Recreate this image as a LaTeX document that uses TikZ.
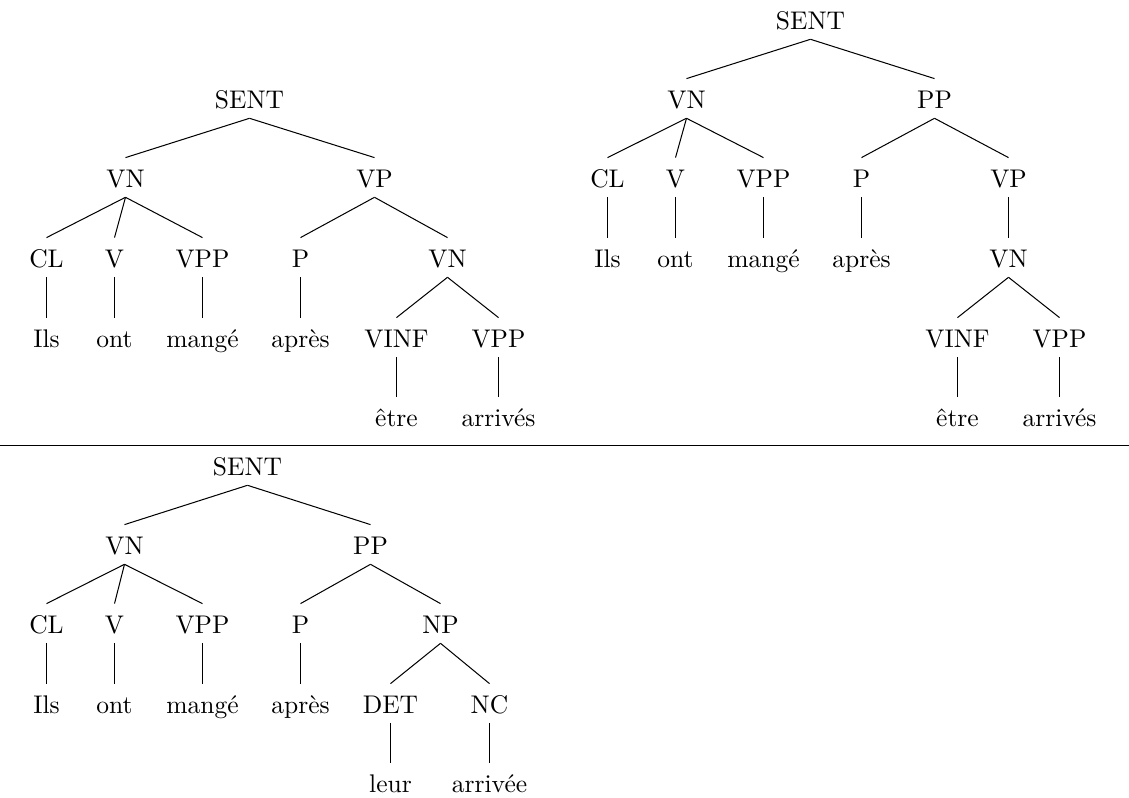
\documentclass[tikz,border=0pt]{standalone}
\usepackage{fontspec}
\begin{document}
\begin{tikzpicture}[x=0.392pt,y=-0.392pt,
  tn/.style={anchor=base, inner sep=3.33pt, text height=8pt, text depth=0.5pt},
  edge/.style={line width=0.4pt}]
\useasboundingbox (0,0) rectangle (1129,797);
\begin{scope}[shift={(0.5,0)}]
% ---------- Tree 1 ----------
\node[tn] (a0)  at (249,108) {SENT};
\node[tn] (a1)  at (125,187) {VN};
\node[tn] (a2)  at (374,187) {VP};
\node[tn] (a3)  at (46,267)  {CL};
\node[tn] (a4)  at (114,267) {V};
\node[tn] (a5)  at (202,267) {VPP};
\node[tn] (a6)  at (300,267) {P};
\node[tn] (a7)  at (447,267) {VN};
\node[tn] (a8)  at (46,347)  {Ils};
\node[tn] (a9)  at (114,347) {ont};
\node[tn] (a10) at (202,347) {mangé};
\node[tn] (a11) at (300,347) {après};
\node[tn] (a12) at (396,347) {VINF};
\node[tn] (a13) at (498,347) {VPP};
\node[tn] (a14) at (396,426) {être};
\node[tn] (a15) at (498,426) {arrivés};
\foreach \p/\c in {a0/a1,a0/a2,a1/a3,a1/a4,a1/a5,a2/a6,a2/a7,a3/a8,a4/a9,a5/a10,a6/a11,a7/a12,a7/a13,a12/a14,a13/a15}
  \draw[edge] (\p.south) -- (\c.north);
% ---------- Tree 2 ----------
\node[tn] (b0)  at (810,29)   {SENT};
\node[tn] (b1)  at (686,108)  {VN};
\node[tn] (b2)  at (934,108)  {PP};
\node[tn] (b3)  at (607,187)  {CL};
\node[tn] (b4)  at (675,187)  {V};
\node[tn] (b5)  at (763,187)  {VPP};
\node[tn] (b6)  at (861,187)  {P};
\node[tn] (b7)  at (1008,187) {VP};
\node[tn] (b8)  at (607,267)  {Ils};
\node[tn] (b9)  at (675,267)  {ont};
\node[tn] (b10) at (763,267)  {mangé};
\node[tn] (b11) at (861,267)  {après};
\node[tn] (b12) at (1008,267) {VN};
\node[tn] (b13) at (957,347)  {VINF};
\node[tn] (b14) at (1059,347) {VPP};
\node[tn] (b15) at (957,426)  {être};
\node[tn] (b16) at (1059,426) {arrivés};
\foreach \p/\c in {b0/b1,b0/b2,b1/b3,b1/b4,b1/b5,b2/b6,b2/b7,b3/b8,b4/b9,b5/b10,b6/b11,b7/b12,b12/b13,b12/b14,b13/b15,b14/b16}
  \draw[edge] (\p.south) -- (\c.north);
% ---------- Tree 3 ----------
\node[tn] (c0)  at (247,475) {SENT};
\node[tn] (c1)  at (124,554) {VN};
\node[tn] (c2)  at (370,554) {PP};
\node[tn] (c3)  at (46,633)  {CL};
\node[tn] (c4)  at (114,633) {V};
\node[tn] (c5)  at (202,633) {VPP};
\node[tn] (c6)  at (300,633) {P};
\node[tn] (c7)  at (440,633) {NP};
\node[tn] (c8)  at (46,713)  {Ils};
\node[tn] (c9)  at (114,713) {ont};
\node[tn] (c10) at (202,713) {mangé};
\node[tn] (c11) at (300,713) {après};
\node[tn] (c12) at (390,713) {DET};
\node[tn] (c13) at (489,713) {NC};
\node[tn] (c14) at (390,792) {leur};
\node[tn] (c15) at (489,792) {arrivée};
\foreach \p/\c in {c0/c1,c0/c2,c1/c3,c1/c4,c1/c5,c2/c6,c2/c7,c3/c8,c4/c9,c5/c10,c6/c11,c7/c12,c7/c13,c12/c14,c13/c15}
  \draw[edge] (\p.south) -- (\c.north);
\end{scope}
% ---------- separator ----------
\coordinate (hl) at (0,445.5);
\coordinate (hr) at (1129,445.5);
\draw[edge] (hl) -- (hr);
\end{tikzpicture}
\end{document}
